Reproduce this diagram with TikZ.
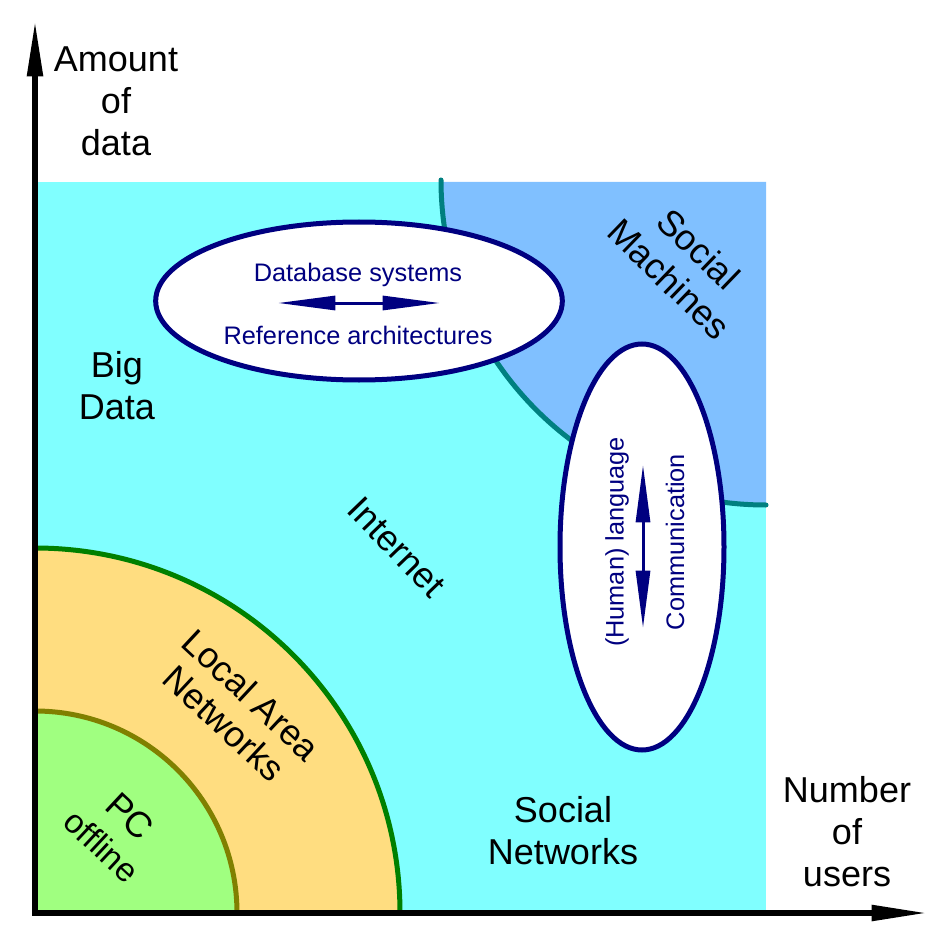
\documentclass[tikz,border=0pt]{standalone}
\usepackage{fontspec}
\setmainfont{Liberation Sans}
\usetikzlibrary{arrows.meta,shapes.geometric}

\tikzset{every picture/.style={line width=0.75pt}}
\tikzset{
  bigLabel/.style={font=\fontsize{27}{31.5}\selectfont, align=center, text=black, inner sep=0pt},
  smallLabel/.style={font=\fontsize{19}{22}\selectfont, text={rgb, 255:red, 0; green, 0; blue, 128 }, inner sep=0pt},
  bubble/.style={ellipse, draw={rgb, 255:red, 0; green, 0; blue, 128 }, line width=3.75pt, fill=white, inner sep=0pt},
  axisArrow/.style={{Triangle[length=43pt,width=11pt]}-{Triangle[length=43pt,width=11pt]}, line width=4.75pt},
  pairArrow/.style={{Triangle[length=43pt,width=10.5pt]}-{Triangle[length=43pt,width=10.5pt]}, line width=2.25pt, color={rgb, 255:red, 0; green, 0; blue, 128 }},
  border/.style={line width=3.75pt, line cap=round}
}

\begin{document}
\begin{tikzpicture}[x=0.75pt,y=0.75pt,yscale=-1,xscale=1]
	\useasboundingbox (0,0) rectangle (950,945);

	%Shape: Rectangle [Internet area]
	\fill [fill={rgb, 255:red, 128; green, 255; blue, 255 }] (35,182) rectangle (766,913);
	%Shape: Sector [Social Machines]
	\fill [fill={rgb, 255:red, 128; green, 192; blue, 255 }] (441,182) arc[start angle=180, end angle=90, radius=325] -- (766,182) -- cycle;
	\draw [border, color={rgb, 255:red, 0; green, 128; blue, 128 }] (441,180) arc[start angle=180, end angle=90, radius=325];
	%Shape: Sector [Local Area Networks]
	\fill [fill={rgb, 255:red, 255; green, 221; blue, 128 }] (35,913) -- (35,548) arc[start angle=-90, end angle=0, radius=365] -- cycle;
	\draw [border, color={rgb, 255:red, 0; green, 128; blue, 0 }] (35,548) arc[start angle=-90, end angle=0, radius=365];
	%Shape: Sector [PC offline]
	\fill [fill={rgb, 255:red, 160; green, 255; blue, 128 }] (35,913) -- (35,711) arc[start angle=-90, end angle=0, radius=202] -- cycle;
	\draw [border, color={rgb, 255:red, 128; green, 128; blue, 0 }] (35,711) arc[start angle=-90, end angle=0, radius=202];

	%Shape: Ellipse [database]
	\node [bubble, minimum width=305pt, minimum height=118.5pt] (dbBubble) at (359,301) {};
	\node [smallLabel] (dbText) at (358,275) {Database systems};
	\node [smallLabel] (refText) at (358,335) {Reference architectures};
	\coordinate (dbLeft) at (278,303);
	\coordinate (dbRight) at (440,303);
	\draw [pairArrow] (dbLeft) -- (dbRight);

	%Shape: Ellipse [language]
	\node [bubble, minimum width=123pt, minimum height=304.5pt] (langBubble) at (642,547) {};
	\node [smallLabel, rotate=90] (humanText) at (617,542) {(Human) language};
	\node [smallLabel, rotate=90] (commText) at (675,542) {Communication};
	\coordinate (langTop) at (643,465);
	\coordinate (langBottom) at (643,628);
	\draw [pairArrow] (langTop) -- (langBottom);

	%Area labels
	\node [bigLabel] (bigData) at (117,386) {Big\\Data};
	\node [bigLabel, rotate=-46] (internet) at (397,547) {Internet};
	\node [bigLabel, rotate=-44] (socialMachines) at (684,264) {Social\\Machines};
	\node [bigLabel, rotate=-43] (lan) at (238,709) {Local Area\\[-2pt]Networks};
	\node [bigLabel, rotate=-43] (pc) at (116,831) {PC\\[-1pt]{\fontsize{25}{29}\selectfont offline}};
	\node [bigLabel] (socialNetworks) at (563,831) {Social\\Networks};

	%Axes
	\coordinate (origin) at (35,913);
	\coordinate (yTop) at (35,19);
	\coordinate (xEnd) at (929,913);
	\draw [axisArrow] (yTop) -- (origin) -- (xEnd);
	\node [bigLabel] (yLabel) at (116,101) {Amount\\of\\data};
	\node [bigLabel] (xLabel) at (847,832) {Number\\of\\users};

\end{tikzpicture}
\end{document}
